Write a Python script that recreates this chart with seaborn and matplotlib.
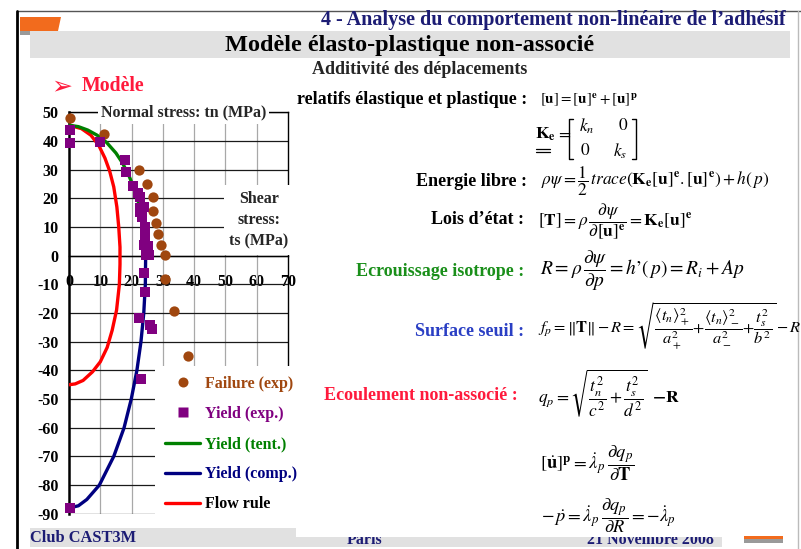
import numpy as np
import pandas as pd
import matplotlib
matplotlib.use("Agg")
import matplotlib.pyplot as plt
from matplotlib.lines import Line2D
from matplotlib.patches import Rectangle, Polygon
import seaborn as sns

# ---------------- data (shear stress ts, normal stress tn) in MPa ----------------
failure_ts = [0.3, 11.2, 22.4, 25.0, 26.9, 26.7, 27.9, 28.6, 29.5, 30.8, 30.8, 33.6, 38.1]
failure_tn = [48.0, 42.3, 29.8, 25.0, 20.5, 15.6, 11.5, 7.6, 3.7, 0.3, -8.2, -19.3, -35.0]

yield_ts = [0.3, 0.3, 10.0, 18.0, 18.2, 20.6, 22.0, 22.6, 23.9, 22.8, 22.7, 23.2, 24.3,
            24.4, 24.1, 25.3, 24.5, 25.7, 24.1, 24.3, 22.3, 25.8, 26.5, 23.0, 0.3]
yield_tn = [44.0, 39.2, 39.6, 33.4, 29.3, 24.3, 21.8, 20.6, 17.1, 16.5, 15.2, 13.6, 10.1,
            6.6, 3.6, 3.5, 0.3, 0.3, -6.1, -12.8, -21.6, -24.2, -25.6, -43.1, -87.9]

tent_ts = [0.0, 3.0, 6.0, 9.0, 12.0, 15.0, 17.0, 19.0, 21.0, 22.5, 23.5, 24.2, 24.5]
tent_tn = [45.5, 45.0, 43.8, 42.0, 39.5, 35.8, 32.5, 28.3, 23.0, 17.5, 12.0, 6.5, 0.0]

comp_ts = [24.5, 24.4, 23.9, 23.0, 21.7, 19.9, 17.6, 14.3, 9.7, 5.7, 3.0, 0.0]
comp_tn = [0.0, -10.0, -20.0, -30.0, -40.0, -50.0, -60.0, -70.0, -80.0, -85.0, -87.2, -88.0]

flow_ts = [0.0, 4.0, 7.0, 9.5, 11.5, 13.0, 14.3, 15.3, 15.9, 16.3, 16.3, 16.1, 15.2,
           13.8, 12.2, 10.0, 7.5, 4.5, 2.0, 0.0]
flow_tn = [45.5, 44.3, 42.0, 38.5, 34.0, 29.5, 24.0, 17.0, 10.0, 3.0, -3.0, -10.0, -19.0,
           -26.0, -32.0, -37.0, -40.5, -43.5, -44.7, -45.0]

x_ticks = [0, 10, 20, 30, 40, 50, 60, 70]
y_ticks = [-90, -80, -70, -60, -50, -40, -30, -20, -10, 0, 10, 20, 30, 40, 50]

series_names = ["Failure (exp)", "Yield (exp.)", "Yield (tent.)", "Yield (comp.)", "Flow rule"]
series_colors = ["#A0470F", "#800080", "#008000", "#000080", "#FF0000"]
label_colors = ["#A0470F", "#800080", "#008000", "#000080", "#000000"]

# ---------------- style ----------------
sns.set_theme(style="white")
plt.rcParams["font.family"] = ["Liberation Serif", "DejaVu Serif"]
plt.rcParams["mathtext.fontset"] = "stix"

W, H = 801, 549
fig = plt.figure(figsize=(W / 100, H / 100), dpi=100)
fig.patch.set_facecolor("white")


def fx(x):
    return x / W


def fy(y):
    return 1 - y / H


def box(x0, y0, x1, y1, color, z=1):
    fig.add_artist(Rectangle((fx(x0), fy(y1)), (x1 - x0) / W, (y1 - y0) / H,
                             transform=fig.transFigure, fc=color, ec="none", zorder=z))


def seg(xs, ys, color="black", lw=1.0, z=2):
    fig.add_artist(Line2D([fx(v) for v in xs], [fy(v) for v in ys],
                          transform=fig.transFigure, color=color, lw=lw, zorder=z))


# ---------------- slide frame ----------------
seg([17, 801], [11, 11], color="#555555", lw=1.0)
seg([17, 17], [11, 549], color="black", lw=2.0)
seg([798, 798], [11, 549], color="#bbbbbb", lw=1.0)
fig.add_artist(Polygon([[fx(20), fy(31)], [fx(57), fy(31)], [fx(56), fy(35)], [fx(20), fy(35)]],
                       closed=True, transform=fig.transFigure, fc="#9a9a9a", ec="none", zorder=1))
fig.add_artist(Polygon([[fx(20), fy(17)], [fx(61), fy(17)], [fx(58), fy(31)], [fx(20), fy(31)]],
                       closed=True, transform=fig.transFigure, fc="#F26B1D", ec="none", zorder=1))
box(30, 31, 790, 58, "#e1e1e1", z=1)

fig.text(fx(786), fy(20), "4 - Analyse du comportement non-linéaire de l\u2019adhésif",
         ha="right", va="center", fontsize=14.5, fontweight="bold", color="#1c1c74")
fig.text(fx(410), fy(45), "Modèle élasto-plastique non-associé",
         ha="center", va="center", fontsize=17.5, fontweight="bold", color="black", zorder=2)

# footer
box(30, 528, 296, 547, "#e1e1e1", z=1)
box(296, 536, 722, 547, "#e1e1e1", z=1)
fig.text(fx(30), fy(538), "Club CAST3M", ha="left", va="center", fontsize=11.8,
         fontweight="bold", color="#1c1c74", zorder=1.2)
fig.text(fx(365), fy(540), "Paris", ha="center", va="center", fontsize=11.5,
         fontweight="bold", color="#1c1c74", zorder=1.2)
fig.text(fx(650), fy(540), "21 Novembre 2008", ha="center", va="center", fontsize=11.5,
         fontweight="bold", color="#1c1c74", zorder=1.2)
box(296, 515, 725, 536.5, "white", z=1.5)
box(744, 536, 783, 539, "#F26B1D", z=1)
box(744, 539, 783, 543, "#9a9a9a", z=1)

# ---------------- left heading ----------------
fig.text(fx(62), fy(86), "\u27A2", ha="center", va="center", fontsize=18,
         color="#FF1A3C", family=["DejaVu Sans"])
fig.text(fx(82), fy(86), "Modèle", ha="left", va="center", fontsize=14.3,
         fontweight="bold", color="#FF1A3C")

# ---------------- right side: equations ----------------
lab_kw = dict(ha="right", va="center", fontsize=13, fontweight="bold", zorder=2)
fig.text(fx(420), fy(69), "Additivité des déplacements", ha="center", va="center",
         fontsize=13, fontweight="bold", zorder=2)
fig.text(fx(527), fy(99), "relatifs élastique et plastique :", color="black", **lab_kw)
fig.text(fx(527), fy(182), "Energie libre :", color="black", **lab_kw)
fig.text(fx(524), fy(219), "Lois d\u2019état :", color="black", **lab_kw)
fig.text(fx(524), fy(271), "Ecrouissage isotrope :", color="#1a8f1a", **lab_kw)
fig.text(fx(524), fy(332), "Surface seuil :", color="#2a3fc4", **lab_kw)
fig.text(fx(518), fy(395), "Ecoulement non-associé :", color="#FF1A3C", **lab_kw)

eq_kw = dict(ha="left", va="center", color="black", zorder=2)
fig.text(fx(540), fy(100), r"$[\mathbf{u}] = [\mathbf{u}]^{\mathbf{e}} + [\mathbf{u}]^{\mathbf{p}}$",
         fontsize=10.8, **eq_kw)

# stiffness matrix
fig.text(fx(535), fy(134), r"$\mathbf{K}_{\mathbf{e}}$", fontsize=12.5, **eq_kw)
fig.text(fx(556), fy(134), r"$=$", fontsize=12.5, **eq_kw)
seg([536, 550], [149, 149], lw=0.9)
seg([536, 550], [152, 152], lw=0.9)
seg([573, 569, 569, 573], [119, 119, 159, 159], lw=1.0)
seg([632, 636, 636, 632], [119, 119, 159, 159], lw=1.0)
fig.text(fx(579), fy(126), r"$k_n$", fontsize=12.5, **eq_kw)
fig.text(fx(618), fy(126), r"$\mathit{0}$", fontsize=12.5, **eq_kw)
fig.text(fx(580), fy(151), r"$\mathit{0}$", fontsize=12.5, **eq_kw)
fig.text(fx(613), fy(151), r"$k_s$", fontsize=12.5, **eq_kw)

fig.text(fx(541), fy(181),
         r"$\rho\psi = \dfrac{\mathit{1}}{\mathit{2}}\,trace(\mathbf{K}_{\mathbf{e}}[\mathbf{u}]^{\mathbf{e}}.[\mathbf{u}]^{\mathbf{e}}) + h(\,p)$",
         fontsize=12.5, **eq_kw)
fig.text(fx(538), fy(221),
         r"$[\mathbf{T}] = \rho\,\dfrac{\partial\psi}{\partial[\mathbf{u}]^{\mathbf{e}}} = \mathbf{K}_{\mathbf{e}}[\mathbf{u}]^{\mathbf{e}}$",
         fontsize=12.5, **eq_kw)
fig.text(fx(540), fy(271),
         r"$R = \rho\,\dfrac{\partial\psi}{\partial p} = h’(\,p) = R_i + Ap$",
         fontsize=14, **eq_kw)
fig.text(fx(538), fy(326),
         r"$f_p = \Vert\mathbf{T}\Vert\,{-}\,R = \sqrt{\dfrac{\langle t_n\rangle_+^2}{a_+^2}{+}\dfrac{\langle t_n\rangle_-^2}{a_-^2}{+}\dfrac{t_s^2}{b^2}}\,{-}\,R$",
         fontsize=11.8, **eq_kw)
fig.text(fx(538), fy(393),
         r"$q_p = \sqrt{\dfrac{t_n^2}{c^2} + \dfrac{t_s^2}{d^2}}\;\;\mathbf{-R}$",
         fontsize=12.5, **eq_kw)
fig.text(fx(540), fy(463),
         r"$[\dot{\mathbf{u}}]^{\mathbf{p}} = \dot{\lambda}_p\,\dfrac{\partial q_p}{\partial \mathbf{T}}$",
         fontsize=13.3, **eq_kw)
fig.text(fx(541), fy(516),
         r"$-\,\dot{p} = \dot{\lambda}_p\,\dfrac{\partial q_p}{\partial R} = -\dot{\lambda}_p$",
         fontsize=13.2, **eq_kw)

# ---------------- chart ----------------
ax = fig.add_axes([fx(69), fy(513.8), (288 - 69) / W, (513.8 - 112.3) / H])
ax.set_facecolor("white")
ax.set_xlim(0, 70)
ax.set_ylim(-90, 50)

df_fail = pd.DataFrame({"ts": failure_ts, "tn": failure_tn})
df_yield = pd.DataFrame({"ts": yield_ts, "tn": yield_tn})
df_tent = pd.DataFrame({"ts": tent_ts, "tn": tent_tn})
df_comp = pd.DataFrame({"ts": comp_ts, "tn": comp_tn})
df_flow = pd.DataFrame({"ts": flow_ts, "tn": flow_tn})

line_kw = dict(x="ts", y="tn", sort=False, estimator=None, lw=2.4, ax=ax, legend=False)
sns.lineplot(data=df_flow, color=series_colors[4], zorder=3.3, **line_kw)
sns.lineplot(data=df_tent, color=series_colors[2], zorder=3.4, **line_kw)
sns.lineplot(data=df_comp, color=series_colors[3], zorder=3.5, **line_kw)
sns.scatterplot(data=df_fail, x="ts", y="tn", color=series_colors[0], marker="o", s=55,
                linewidth=0, ax=ax, zorder=4, legend=False, clip_on=False)
sns.scatterplot(data=df_yield, x="ts", y="tn", color=series_colors[1], marker="s", s=62,
                linewidth=0, ax=ax, zorder=4.1, legend=False, clip_on=False)

# axes, ticks, grid
ax.set_xticks(x_ticks)
ax.set_yticks(y_ticks)
ax.set_xticklabels([str(v) for v in x_ticks])
ax.set_yticklabels([str(v) for v in y_ticks])
ax.grid(False)
for v in y_ticks:
    ax.axhline(v, color="#1a1a1a", lw=0.9, zorder=1)
for v in x_ticks[1:-1]:
    ax.axvline(v, color="#a8a8a8", lw=0.9, zorder=0.9)
ax.spines["bottom"].set_position(("data", 0))
ax.spines["bottom"].set_linewidth(1.0)
ax.spines["left"].set_linewidth(1.8)
ax.spines["top"].set_linewidth(1.0)
ax.spines["right"].set_linewidth(1.0)
for sp in ax.spines.values():
    sp.set_color("black")
ax.tick_params(axis="x", direction="out", length=4, width=1, pad=9.5, labelsize=11.5,
               colors="black")
ax.tick_params(axis="y", direction="out", length=4, width=1, pad=3.5, labelsize=11.5,
               colors="black")
for t in ax.get_xticklabels() + ax.get_yticklabels():
    t.set_fontweight("bold")
ax.set_xlabel("")
ax.set_ylabel("")

# axis titles on white boxes
ax.text(36.6, 49.8, "Normal stress: tn (MPa)", ha="center", va="center", fontsize=11.5,
        fontweight="bold", zorder=3.6,
        bbox=dict(boxstyle="square,pad=0.2", fc="white", ec="none"))
ax.text(60.7, 12.4, "Shear\nstress:\nts (MPa)", ha="center", va="center", fontsize=11.5,
        fontweight="bold", linespacing=1.45, zorder=3.6, clip_on=False,
        bbox=dict(boxstyle="square,pad=0.35", fc="white", ec="none"))

# legend area
ax.add_patch(Rectangle((27.6, -38.5), 46, -60, fc="white", ec="none", zorder=3,
                       clip_on=False))
handles = [
    Line2D([], [], ls="none", marker="o", markersize=7.2, color=series_colors[0], mec="none"),
    Line2D([], [], ls="none", marker="s", markersize=7.6, color=series_colors[1], mec="none"),
    Line2D([], [], color=series_colors[2], lw=2.4),
    Line2D([], [], color=series_colors[3], lw=2.4),
    Line2D([], [], color=series_colors[4], lw=2.4),
]
leg = ax.legend(handles, series_names, loc="upper left",
                bbox_to_anchor=(fx(165), fy(376)), bbox_transform=fig.transFigure,
                frameon=False, handlelength=2.2, handletextpad=0.3,
                labelspacing=0.88, borderpad=0, borderaxespad=0,
                prop={"weight": "bold", "size": 11.5})
leg.set_zorder(5)
for txt, c in zip(leg.get_texts(), label_colors):
    txt.set_color(c)

fig.savefig("out.png", dpi=100)
